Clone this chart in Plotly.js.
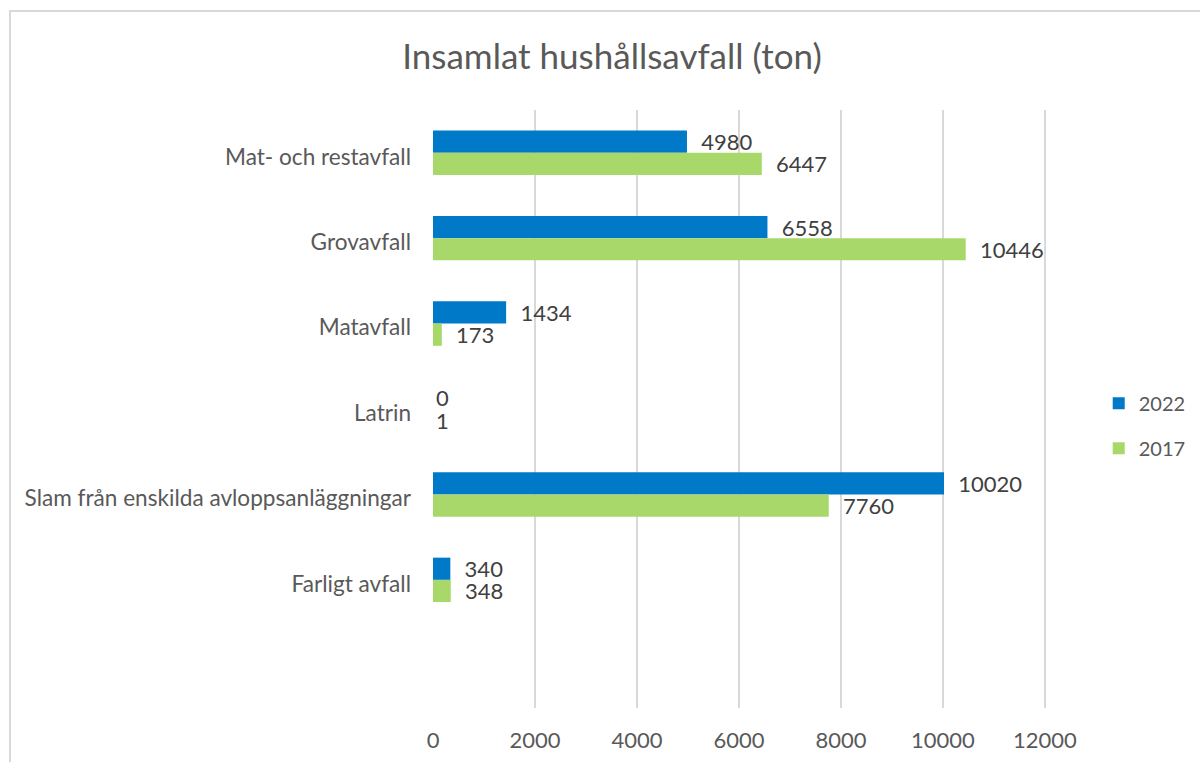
<!DOCTYPE html>
<html>
<head>
<meta charset="utf-8">
<script src="https://cdn.plot.ly/plotly-3.0.1.min.js"></script>
<style>
  html, body { margin: 0; padding: 0; background: #fff; }
  #chart { width: 1200px; height: 762px; position: relative; }
  #frame { position: absolute; left: 9px; top: 10px; width: 1300px; height: 900px;
           border: 2px solid #d9d9d9; pointer-events: none; box-sizing: border-box; }
  #wrap { position: relative; width: 1200px; height: 762px; overflow: hidden; }
</style>
</head>
<body>
<div id="wrap">
  <div id="chart"></div>
  <div id="frame"></div>
</div>
<script>
const categories = [
  "Mat- och restavfall",
  "Grovavfall",
  "Matavfall",
  "Latrin",
  "Slam från enskilda avloppsanläggningar",
  "Farligt avfall"
];
const values2022 = [4980, 6558, 1434, 0, 10020, 340];
const values2017 = [6447, 10446, 173, 1, 7760, 348];
const seriesNames = ["2022", "2017"];
const xTicks = [0, 2000, 4000, 6000, 8000, 10000, 12000];

const FONT = "Lato, 'Open Sans', sans-serif";
const pad = "\u00a0\u00a0";
const labelText = v => (v > 1 ? pad : "") + v;

const traces = [
  {
    type: "bar", orientation: "h", name: seriesNames[0], legendgroup: "a",
    y: categories, x: values2022,
    marker: { color: "#0079C8" },
    text: values2022.map(labelText),
    textposition: "outside", cliponaxis: false, constraintext: "none",
    textfont: { family: FONT, size: 22, color: "#404040" },
    hoverinfo: "x+y"
  },
  {
    type: "bar", orientation: "h", name: seriesNames[1], legendgroup: "b",
    y: categories, x: values2017,
    marker: { color: "#A8D86A" },
    text: values2017.map(labelText),
    textposition: "outside", cliponaxis: false, constraintext: "none",
    textfont: { family: FONT, size: 22, color: "#404040" },
    hoverinfo: "x+y"
  }
];

const layout = {
  width: 1200, height: 762,
  paper_bgcolor: "rgba(0,0,0,0)", plot_bgcolor: "#fff",
  margin: { l: 433, r: 154, t: 110, b: 54, autoexpand: false },
  title: {
    text: "Insamlat hushållsavfall (ton)",
    font: { family: FONT, size: 35, color: "#595959" },
    x: 0.51, xanchor: "center", y: 0.925, yanchor: "middle"
  },
  barmode: "group", bargap: 0.48, bargroupgap: 0,
  xaxis: {
    range: [0, 12020], tickvals: xTicks, ticktext: xTicks.map(String),
    showgrid: true, gridcolor: "#d9d9d9", gridwidth: 1.5,
    zeroline: false, showline: false, ticks: "",
    ticklabelstandoff: 17,
    tickfont: { family: FONT, size: 22, color: "#595959" }
  },
  yaxis: {
    type: "category", categoryorder: "array", categoryarray: categories,
    range: [6.5, -0.5],
    showgrid: false, zeroline: false, showline: false, ticks: "",
    ticklabelstandoff: 21, ticklabelshift: -4,
    tickfont: { family: FONT, size: 22.6, color: "#595959" }
  },
  legend: {
    x: 1.086, xanchor: "left", y: 0.472, yanchor: "middle",
    font: { family: FONT, size: 20, color: "#595959" },
    tracegroupgap: 16, itemwidth: 30,
    traceorder: "grouped"
  },
  showlegend: true
};

Plotly.newPlot("chart", traces, layout, { displayModeBar: false, staticPlot: true });
</script>
</body>
</html>
